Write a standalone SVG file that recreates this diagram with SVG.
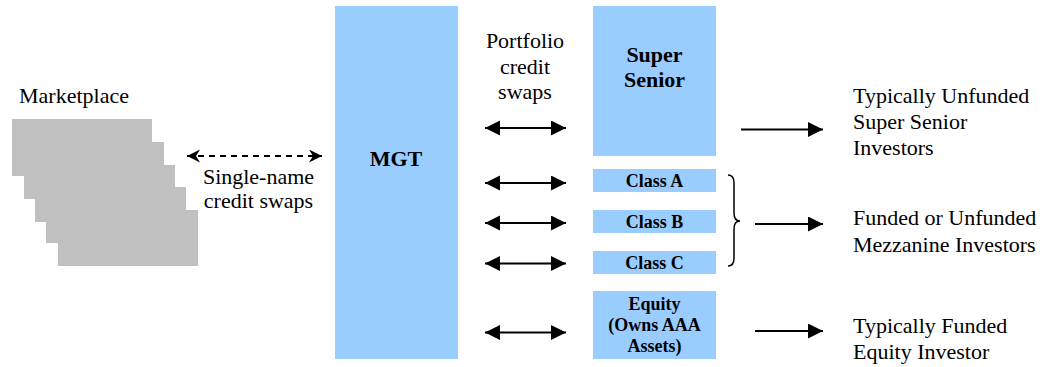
<svg xmlns="http://www.w3.org/2000/svg" width="1053" height="367" viewBox="0 0 1053 367" font-family="'Liberation Serif', 'Times New Roman', Times, serif">
  <defs>
    <marker id="head" markerUnits="userSpaceOnUse" markerWidth="16" markerHeight="16" refX="15" refY="7.5" orient="auto-start-reverse" viewBox="0 0 16 16">
      <path d="M0,0 L15,7.5 L0,15 z" fill="#000"/>
    </marker>
    <marker id="dhead" markerUnits="userSpaceOnUse" markerWidth="14" markerHeight="14" refX="13" refY="6.5" orient="auto-start-reverse" viewBox="0 0 14 14">
      <path d="M0,0 L13,6.5 L0,13 L4,6.5 z" fill="#000"/>
    </marker>
  </defs>
  <style>
    text { font-family: 'Liberation Serif', 'Times New Roman', Times, serif; fill: #000; }
    .txt { font-size: 22px; }
    .bold { font-weight: bold; }
    .mid { text-anchor: middle; }
    .tranche { fill: #99CCFF; }
    .card { fill: #C0C0C0; }
    .link { stroke: #000; stroke-width: 2; fill: none; marker-end: url(#head); }
    .both { marker-start: url(#head); }
    .dash { stroke: #000; stroke-width: 2; fill: none; stroke-dasharray: 6 5; marker-start: url(#dhead); marker-end: url(#dhead); }
  </style>
  <rect width="1053" height="367" fill="#fff"/>

  <!-- Marketplace: stack of reference-entity cards -->
  <g id="marketplace">
    <rect class="card" x="12" y="119" width="140" height="57"/>
    <rect class="card" x="24" y="142" width="140" height="57"/>
    <rect class="card" x="35" y="165" width="140" height="57"/>
    <rect class="card" x="46" y="187" width="140" height="56"/>
    <rect class="card" x="58" y="210" width="140" height="56"/>
    <text class="txt" x="19" y="103">Marketplace</text>
  </g>

  <g id="mgt">
    <rect class="tranche" x="335" y="6" width="123" height="353"/>
    <text class="bold mid" x="396" y="166" font-size="22">MGT</text>
  </g>

  <g id="super-senior">
    <rect class="tranche" x="593" y="6" width="123" height="150"/>
    <text class="bold mid" x="654.5" y="62" font-size="22">Super</text>
    <text class="bold mid" x="654.5" y="87" font-size="22">Senior</text>
  </g>

  <g id="class-a">
    <rect class="tranche" x="593" y="169" width="123" height="23"/>
    <text class="bold mid" x="654.5" y="187" font-size="18">Class A</text>
  </g>
  <g id="class-b">
    <rect class="tranche" x="593" y="210" width="123" height="23"/>
    <text class="bold mid" x="654.5" y="228" font-size="18">Class B</text>
  </g>
  <g id="class-c">
    <rect class="tranche" x="593" y="251" width="123" height="23"/>
    <text class="bold mid" x="654.5" y="269" font-size="18">Class C</text>
  </g>
  <g id="equity">
    <rect class="tranche" x="593" y="291" width="123" height="68"/>
    <text class="bold mid" x="654.5" y="310" font-size="18">Equity</text>
    <text class="bold mid" x="654.5" y="330.5" font-size="18">(Owns AAA</text>
    <text class="bold mid" x="654.5" y="351.5" font-size="18">Assets)</text>
  </g>

  <!-- Investor groups -->
  <g id="super-senior-investors">
    <text class="txt" x="853" y="103">Typically Unfunded</text>
    <text class="txt" x="853" y="128.5">Super Senior</text>
    <text class="txt" x="853" y="155">Investors</text>
  </g>
  <g id="mezzanine-investors">
    <text class="txt" x="853" y="225">Funded or Unfunded</text>
    <text class="txt" x="853" y="251.5">Mezzanine Investors</text>
  </g>
  <g id="equity-investor">
    <text class="txt" x="853" y="333">Typically Funded</text>
    <text class="txt" x="853" y="359">Equity Investor</text>
  </g>

  <!-- Swap labels -->
  <g id="single-name-label">
    <text class="txt mid" x="258.5" y="184">Single-name</text>
    <text class="txt mid" x="258.5" y="208">credit swaps</text>
  </g>
  <g id="portfolio-label">
    <text class="txt mid" x="525" y="48">Portfolio</text>
    <text class="txt mid" x="525" y="73.5">credit</text>
    <text class="txt mid" x="525" y="99">swaps</text>
  </g>

  <g id="connectors">
    <line class="dash" x1="187" y1="156" x2="322" y2="156"/>
    <line class="link both" x1="485" y1="128" x2="566" y2="128"/>
    <line class="link both" x1="485" y1="183" x2="566" y2="183"/>
    <line class="link both" x1="485" y1="223" x2="566" y2="223"/>
    <line class="link both" x1="485" y1="263.5" x2="566" y2="263.5"/>
    <line class="link both" x1="485" y1="332.5" x2="566" y2="332.5"/>
    <line class="link" x1="741" y1="129.5" x2="823" y2="129.5"/>
    <line class="link" x1="755" y1="224" x2="823" y2="224"/>
    <line class="link" x1="755" y1="331" x2="823" y2="331"/>
    <!-- brace grouping the mezzanine classes -->
    <path d="M728,175 Q734,175 734,183 L734,213 Q734,221 740,221 Q734,221 734,229 L734,258 Q734,266 728,266" stroke="#000" stroke-width="1.5" fill="none"/>
  </g>
</svg>
